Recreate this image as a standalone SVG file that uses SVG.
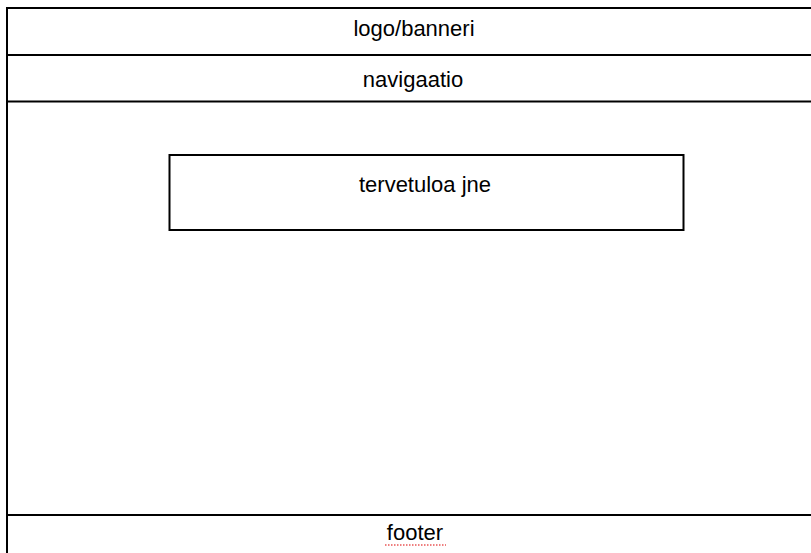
<svg xmlns="http://www.w3.org/2000/svg" width="811" height="553" viewBox="0 0 811 553">
<style>
.ln{stroke:#000;stroke-width:2;fill:none}
.t{font-family:"Liberation Sans",Arial,sans-serif;font-size:22px;fill:#000;text-anchor:middle}
</style>
<rect width="811" height="553" fill="#fff"/>
<g id="frame">
<line class="ln" x1="6.5" y1="8" x2="811" y2="8"/>
<line class="ln" x1="7" y1="7" x2="7" y2="553"/>
</g>
<g id="banner">
<line class="ln" x1="7" y1="55" x2="811" y2="55"/>
<text class="t" x="414" y="36">logo/banneri</text>
</g>
<g id="nav">
<line class="ln" x1="7" y1="101.5" x2="811" y2="101.5"/>
<text class="t" x="413" y="87">navigaatio</text>
</g>
<g id="welcome">
<rect class="ln" x="169.5" y="155" width="514" height="75"/>
<text class="t" x="425" y="191.5">tervetuloa jne</text>
</g>
<g id="footer">
<line class="ln" x1="7" y1="515" x2="811" y2="515"/>
<text class="t" x="415" y="540">footer</text>
<line x1="385" y1="545" x2="446" y2="545" stroke="#d00" stroke-width="1.2" stroke-dasharray="1.5,1.5"/>
</g>
</svg>
